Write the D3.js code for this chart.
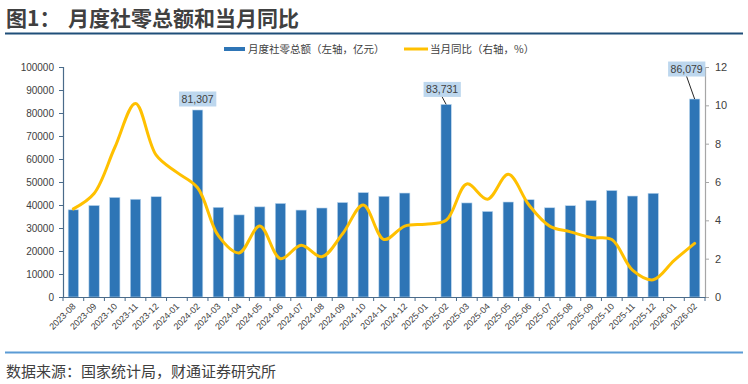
<!DOCTYPE html>
<html>
<head>
<meta charset="utf-8">
<script src="https://cdn.jsdelivr.net/npm/d3@7"></script>
<style>
  html, body { margin: 0; padding: 0; background: #fff; }
  svg { display: block; }
</style>
</head>
<body>
<svg id="chart" width="748" height="384"></svg>
<script>
const categories = ['2023-08','2023-09','2023-10','2023-11','2023-12','2024-01','2024-02','2024-03','2024-04','2024-05','2024-06','2024-07','2024-08','2024-09','2024-10','2024-11','2024-12','2025-01','2025-02','2025-03','2025-04','2025-05','2025-06','2025-07','2025-08','2025-09','2025-10','2025-11','2025-12','2026-01','2026-02'];
const salesValues = [37900, 39800, 43300, 42500, 43600, null, 81307, 39000, 35700, 39200, 40700, 37800, 38700, 41100, 45400, 43800, 45200, null, 83731, 40900, 37200, 41300, 42300, 38800, 39700, 42000, 46300, 43900, 45100, null, 86079];
const yoyValues = [4.6, 5.4, 7.8, 10.1, 7.4, 6.5, 5.7, 3.2, 2.3, 3.7, 2.0, 2.7, 2.1, 3.3, 4.8, 3.0, 3.7, 3.8, 4.0, 5.9, 5.1, 6.4, 4.8, 3.7, 3.4, 3.1, 3.0, 1.4, 0.9, 1.9, 2.8];
const leftTicks = [0, 10000, 20000, 30000, 40000, 50000, 60000, 70000, 80000, 90000, 100000];
const rightTicks = [0, 2, 4, 6, 8, 10, 12];
const labeledCategories = ['2024-02', '2025-02', '2026-02'];
const titleNo = '图1：';
const titleText = '月度社零总额和当月同比';
const legendBar = '月度社零总额（左轴，亿元）';
const legendLine = '当月同比（右轴，%）';
const sourceText = '数据来源：国家统计局，财通证券研究所';

const svg = d3.select('#chart');
const cjk = '"Noto Sans CJK SC", "Noto Sans", sans-serif';
const num = '"Liberation Sans", Arial, sans-serif';
const BAR = '#2E75B6', LINE = '#FFC000', TXT = '#404040';

const L = 63, R = 705, T = 67, B = 297;

const x = d3.scaleBand().domain(categories).range([L, R]).paddingInner(0.5).paddingOuter(0.25);
const y = d3.scaleLinear().domain([0, 100000]).range([B, T]);
const y2 = d3.scaleLinear().domain([0, 12]).range([B, T]);

// Title
svg.append('text').attr('x', 6).attr('y', 26).attr('font-family', cjk).attr('font-weight', 'bold')
  .attr('font-size', 21).attr('fill', TXT).text(titleNo);
svg.append('text').attr('x', 68).attr('y', 26).attr('font-family', cjk).attr('font-weight', 'bold')
  .attr('font-size', 21).attr('fill', TXT).text(titleText);
svg.append('line').attr('x1', 5).attr('x2', 743).attr('y1', 33.5).attr('y2', 33.5)
  .attr('stroke', '#1F4E79').attr('stroke-width', 2);

// Footer
svg.append('line').attr('x1', 5).attr('x2', 743).attr('y1', 352.5).attr('y2', 352.5)
  .attr('stroke', '#5B9BD5').attr('stroke-width', 2);
svg.append('text').attr('x', 6).attr('y', 377).attr('font-family', cjk)
  .attr('font-size', 15).attr('fill', TXT).text(sourceText);

// Legend
const lg = svg.append('g');
lg.append('rect').attr('x', 224).attr('y', 47).attr('width', 21).attr('height', 4).attr('fill', BAR);
lg.append('text').attr('x', 248).attr('y', 53).attr('font-family', cjk).attr('font-size', 10.5)
  .attr('fill', TXT).text(legendBar);
lg.append('line').attr('x1', 404).attr('x2', 428).attr('y1', 49).attr('y2', 49)
  .attr('stroke', LINE).attr('stroke-width', 3);
lg.append('text').attr('x', 430).attr('y', 53).attr('font-family', cjk).attr('font-size', 10.5)
  .attr('fill', TXT).text(legendLine);

// Bars
const data = categories.map((c, i) => ({ c, v: salesValues[i], r: yoyValues[i] }));
svg.append('g').selectAll('rect').data(data.filter(d => d.v != null)).join('rect')
  .attr('x', d => x(d.c)).attr('width', x.bandwidth())
  .attr('y', d => y(d.v)).attr('height', d => y(0) - y(d.v))
  .attr('fill', BAR).attr('stroke', '#BDD7EE').attr('stroke-width', 0.6);

// Line
const line = d3.line().x(d => x(d.c) + x.bandwidth() / 2).y(d => y2(d.r)).curve(d3.curveCatmullRom.alpha(0.5));
svg.append('path').datum(data).attr('d', line).attr('fill', 'none')
  .attr('stroke', LINE).attr('stroke-width', 3).attr('stroke-linejoin', 'round').attr('stroke-linecap', 'round');

// Left axis
const ax = svg.append('g').attr('transform', `translate(${L},0)`)
  .call(d3.axisLeft(y).tickValues(leftTicks).tickSize(4).tickPadding(5).tickFormat(d3.format('d')));
ax.select('.domain').attr('stroke', '#4A6B8A').attr('stroke-width', 1.2);
ax.selectAll('.tick line').attr('stroke', '#4A6B8A');
ax.selectAll('.tick text').attr('font-family', num).attr('font-size', 10).attr('fill', TXT);

// Right axis
const ar = svg.append('g').attr('transform', `translate(${R},0)`)
  .call(d3.axisRight(y2).tickValues(rightTicks).tickSize(4).tickPadding(6));
ar.select('.domain').attr('stroke', '#A6A6A6').attr('stroke-width', 1.2);
ar.selectAll('.tick line').attr('stroke', '#A6A6A6');
ar.selectAll('.tick text').attr('font-family', num).attr('font-size', 11).attr('fill', TXT);

// Bottom axis
const step = x.step();
const boundaries = d3.range(categories.length + 1).map(i => L + i * step);
const xb = svg.append('g').attr('transform', `translate(0,${B})`)
  .call(d3.axisBottom(x).tickSize(0).tickPadding(0));
xb.select('.domain').attr('stroke', '#4A6B8A').attr('stroke-width', 1.2);
xb.selectAll('.tick text').attr('font-family', num).attr('font-size', 9).attr('fill', TXT)
  .attr('text-anchor', 'end').attr('dy', 0)
  .attr('transform', 'translate(3,10) rotate(-45)');
xb.selectAll('.btick').data(boundaries).join('line').attr('class', 'btick')
  .attr('x1', d => d).attr('x2', d => d).attr('y1', 0).attr('y2', 4)
  .attr('stroke', '#4A6B8A');

// Data labels
const fmt = d3.format(',');
const labelOffsets = { '2024-02': [0, -11, false], '2025-02': [-4, -15, true], '2026-02': [-8, -30, true] };
const lab = svg.append('g');
data.filter(d => labeledCategories.includes(d.c)).forEach(d => {
  const cx = x(d.c) + x.bandwidth() / 2;
  const top = y(d.v);
  const [dx, dy, leader] = labelOffsets[d.c];
  const lx = cx + dx, ly = top + dy;
  const t = lab.append('text').attr('x', lx).attr('y', ly + 4).attr('text-anchor', 'middle')
    .attr('font-family', num).attr('font-size', 10.5).attr('fill', TXT).text(fmt(d.v));
  const bb = t.node().getBBox();
  lab.insert('rect', 'text').attr('x', bb.x - 2.5).attr('y', ly - 7.5).attr('width', bb.width + 5)
    .attr('height', 15).attr('fill', '#BDD7EE');
  if (leader) {
    lab.append('line').attr('x1', lx).attr('y1', ly + 7.5).attr('x2', cx).attr('y2', top)
      .attr('stroke', '#262626').attr('stroke-width', 1);
  }
});
</script>
</body>
</html>
